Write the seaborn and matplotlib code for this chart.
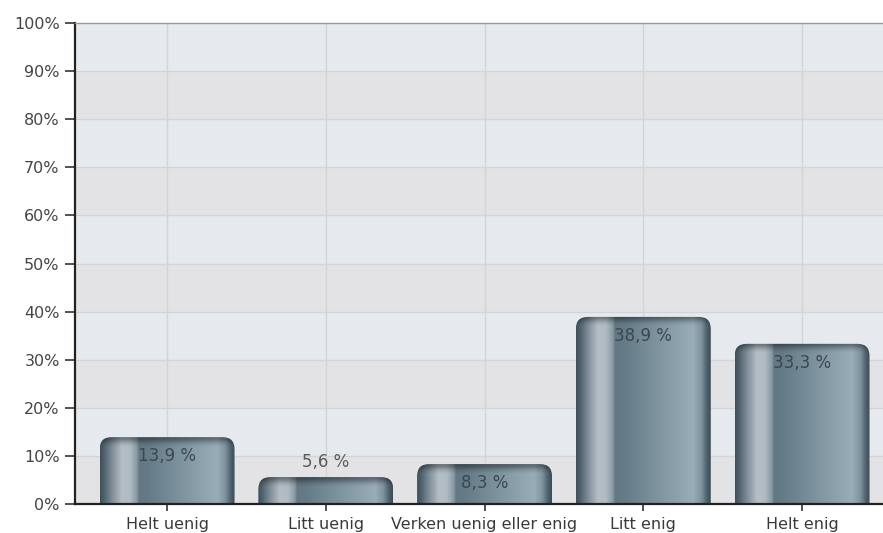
import numpy as np
import pandas as pd
import matplotlib
matplotlib.use("Agg")
import matplotlib.pyplot as plt
from matplotlib.colors import to_rgb
from matplotlib.patches import FancyBboxPatch, Rectangle
import seaborn as sns

categories = ["Helt uenig", "Litt uenig", "Verken uenig eller enig", "Litt enig", "Helt enig"]
values = [13.9, 5.6, 8.3, 38.9, 33.3]
y_ticks = [0, 10, 20, 30, 40, 50, 60, 70, 80, 90, 100]
y_tick_labels = [f"{t}%" for t in y_ticks]

df = pd.DataFrame({"svar": categories, "andel": values})

sns.set_theme(style="white")
plt.rcParams["font.family"] = ["DejaVu Sans"]

W, H, DPI = 883, 533, 100
fig = plt.figure(figsize=(W / DPI, H / DPI), dpi=DPI)
ax_left, ax_bottom = 75 / W, 29 / H
ax_w, ax_h = 1.0 - ax_left, 481 / H
ax = fig.add_axes([ax_left, ax_bottom, ax_w, ax_h])

XLIM = (-0.58, 4.51)
YLIM = (0, 100)

# alternating background bands
band_light, band_dark = "#e6eaee", "#e3e3e6"
for lo in y_ticks[:-1]:
    col = band_light if (lo // 10) % 2 == 1 else band_dark
    ax.add_patch(Rectangle((XLIM[0], lo), XLIM[1] - XLIM[0], 10, facecolor=col,
                           edgecolor="none", zorder=0))

sns.barplot(data=df, x="svar", y="andel", width=0.85, color="#6b808b",
            ax=ax, zorder=2)

ax.set_xlim(*XLIM)
ax.set_ylim(*YLIM)

# grid lines
for t in y_ticks[1:-1]:
    ax.axhline(t, color="#d4d4d6", lw=1, zorder=1)
for i in range(len(categories)):
    ax.axvline(i, color="#d4d4d6", lw=1, zorder=1)

# horizontal shading of the cylinder-like bars
stops = [
    (0.00, "#3e505a"), (0.03, "#4f636e"), (0.10, "#8896a0"), (0.16, "#b3bec5"),
    (0.22, "#b0bcc3"), (0.27, "#8a9ba5"), (0.29, "#637884"), (0.35, "#647a86"),
    (0.60, "#7d939e"), (0.87, "#99adb8"), (0.93, "#7f939e"), (0.97, "#50646f"),
    (1.00, "#3a4c56"),
]
ncol = 240
xs = np.linspace(0, 1, ncol)
pos = [s[0] for s in stops]
rgb = np.array([to_rgb(s[1]) for s in stops])
row = np.stack([np.interp(xs, pos, rgb[:, k]) for k in range(3)], axis=1)

px_per_x = ax_w * W / (XLIM[1] - XLIM[0])
px_per_y = ax_h * H / (YLIM[1] - YLIM[0])
radius_px = 12
r_x = radius_px / px_per_x
aspect = (radius_px / px_per_y) / r_x
below = 5

for patch, v in zip(list(ax.patches)[-len(values):], values):
    x0, w = patch.get_x(), patch.get_width()
    h = patch.get_height()
    patch.set_visible(False)
    nrow = max(int((h + below) * px_per_y), 12)
    img = np.repeat(row[None, :, :], nrow, axis=0)
    # darker rim along the top edge
    shade = np.ones(nrow)
    rim = np.array([0.60, 0.63, 0.67, 0.73, 0.79, 0.85, 0.90, 0.94, 0.97, 0.99])
    shade[:len(rim)] = rim[:nrow]
    img = img * shade[:, None, None]
    im = ax.imshow(np.clip(img, 0, 1), extent=(x0, x0 + w, -below, h),
                   aspect="auto", interpolation="bilinear", zorder=3)
    clip = FancyBboxPatch((x0, -below), w, h + below,
                          boxstyle=f"round,pad=0,rounding_size={r_x}",
                          mutation_aspect=aspect, transform=ax.transData,
                          facecolor="none", edgecolor="none")
    ax.add_patch(clip)
    im.set_clip_path(clip)

ax.set_xlim(*XLIM)
ax.set_ylim(*YLIM)

# value labels
for i, v in enumerate(values):
    txt = f"{v:.1f}".replace(".", ",") + " %"
    if v < 7:
        ax.text(i, v + 3.1, txt, ha="center", va="center", fontsize=12,
                color="#5a5a5a", zorder=5)
    else:
        ax.text(i, v - 3.9, txt, ha="center", va="center", fontsize=12,
                color="#3d464d", zorder=5)

ax.set_yticks(y_ticks)
ax.set_yticklabels(y_tick_labels)
ax.set_xticks(range(len(categories)))
ax.set_xticklabels(categories)
ax.set_xlabel("")
ax.set_ylabel("")
ax.tick_params(axis="y", left=True, length=7, width=1.2, color="#333333",
               labelsize=11.5, labelcolor="#454545", pad=4)
ax.tick_params(axis="x", bottom=True, length=5, width=1.2, color="#333333",
               labelsize=11.5, labelcolor="#3a3a3a", pad=4)

for side in ["left", "bottom"]:
    ax.spines[side].set_visible(True)
    ax.spines[side].set_color("#222222")
    ax.spines[side].set_linewidth(1.6)
ax.spines["top"].set_color("#9a9a9a")
ax.spines["top"].set_linewidth(1)
ax.spines["right"].set_visible(False)
for s in ax.spines.values():
    s.set_zorder(6)

fig.savefig("out.png", dpi=DPI, facecolor="white")
